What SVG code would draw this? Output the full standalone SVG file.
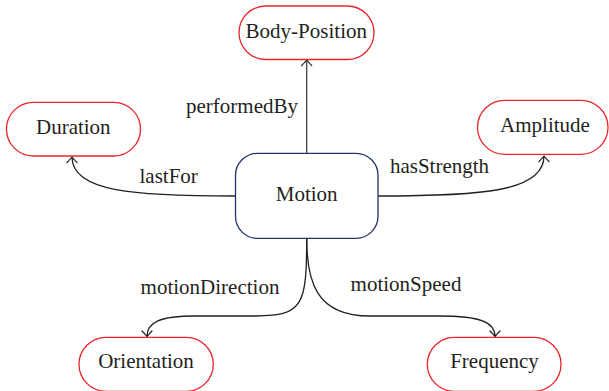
<svg xmlns="http://www.w3.org/2000/svg" width="609" height="391" viewBox="0 0 609 391">
<defs>
<style>
.bg{fill:#ffffff}
.leaf{fill:#ffffff;stroke:#e8262a;stroke-width:1.3}
.core{fill:#ffffff;stroke:#24336e;stroke-width:1.3}
.t{font-family:"Liberation Serif","Times New Roman",serif;font-size:21px;fill:#231f20;text-anchor:middle}
.e{fill:none;stroke:#231f20;stroke-width:1.3}
.ev{fill:none;stroke:#444444;stroke-width:1.3}
</style>
<marker id="arr" viewBox="-7 -7 9 14" markerWidth="9" markerHeight="14" refX="0" refY="0" orient="auto" markerUnits="userSpaceOnUse">
<path d="M-5.5,-5 Q-1.5,-1.2 0,0 Q-1.5,1.2 -5.5,5" fill="none" stroke="#231f20" stroke-width="1.2" stroke-linecap="round"/>
</marker>
</defs>
<rect class="bg" x="0" y="0" width="609" height="391"/>
<g id="connectors">
<path class="ev" d="M306.7,153.3 L306.7,60" marker-end="url(#arr)"/>
<path class="e" d="M235,196 C135,196 72,192 72,157" marker-end="url(#arr)"/>
<path class="e" d="M378.3,196 C480,196 544,192 544,156" marker-end="url(#arr)"/>
<path class="e" d="M306.7,238.3 C306.7,305 303,316 256,316 L195,316 C160,316 147,322 147,336.5" marker-end="url(#arr)"/>
<path class="e" d="M306.7,238.3 C306.7,280 315,316 370,316 L440,316 C480,316 495,322 495,336.5" marker-end="url(#arr)"/>
<text class="t" x="242" y="113.3">performedBy</text>
<text class="t" x="168.7" y="183.3">lastFor</text>
<text class="t" x="439.5" y="173.3">hasStrength</text>
<text class="t" x="210" y="294.3">motionDirection</text>
<text class="t" x="406" y="290.7">motionSpeed</text>
</g>
<g id="node-body-position">
<rect class="leaf" x="239" y="6" width="135" height="53.5" rx="26.7"/>
<text class="t" x="306.3" y="38.3">Body-Position</text>
</g>
<g id="node-duration">
<rect class="leaf" x="6.5" y="102.3" width="134" height="53.7" rx="26.8"/>
<text class="t" x="73.3" y="134.3">Duration</text>
</g>
<g id="node-amplitude">
<rect class="leaf" x="477.5" y="100.3" width="130.5" height="54" rx="27"/>
<text class="t" x="545" y="131.7">Amplitude</text>
</g>
<g id="node-motion">
<rect class="core" x="235.5" y="153.3" width="142.5" height="85" rx="22"/>
<text class="t" x="306.7" y="201">Motion</text>
</g>
<g id="node-orientation">
<rect class="leaf" x="79" y="337.3" width="134.3" height="54" rx="27"/>
<text class="t" x="146" y="368.3">Orientation</text>
</g>
<g id="node-frequency">
<rect class="leaf" x="427.3" y="337.3" width="133.7" height="54" rx="27"/>
<text class="t" x="494.5" y="368.3">Frequency</text>
</g>
</svg>
